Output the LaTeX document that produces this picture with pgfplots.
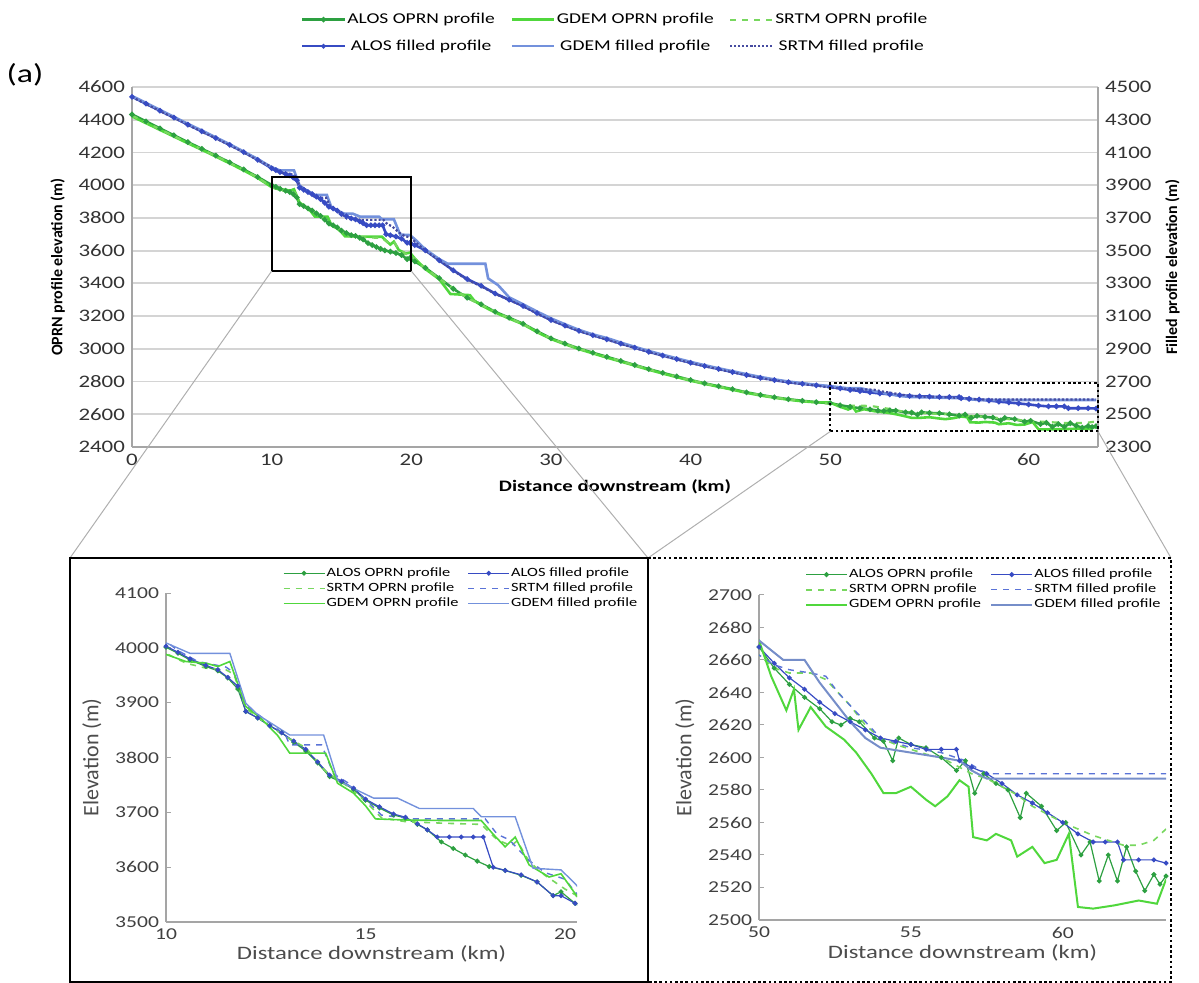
\documentclass[border=0pt]{standalone}
\usepackage{pgfplots}
\usepackage{pgfplotstable}
\pgfplotsset{compat=1.18}
\usepackage{fontspec}
\setmainfont[FakeStretch=1.3]{Carlito}
\newfontfamily\rotfont{Carlito}
\definecolor{alosO}{RGB}{45,160,65}
\definecolor{gdemO}{RGB}{80,215,60}
\definecolor{srtmO}{RGB}{120,215,95}
\definecolor{alosF}{RGB}{55,75,195}
\definecolor{gdemF}{RGB}{115,145,220}
\definecolor{srtmF}{RGB}{70,75,160}
\definecolor{srtmFi}{RGB}{90,115,215}
\definecolor{gridc}{RGB}{212,212,212}
\definecolor{axc}{RGB}{165,165,165}
\definecolor{linkc}{RGB}{175,175,175}

\pgfplotstableread{
x y
0 4432
1 4390
2 4347
3 4305
4 4263
5 4222
6 4181
7 4139
8 4096
9 4050
10.0 4001
10.3 3990
10.6 3978
11.0 3966
11.3 3958
11.55 3945
11.8 3925
12.0 3884
12.3 3872
12.6 3858
12.9 3845
13.2 3828
13.5 3812
13.8 3790
14.1 3765
14.4 3755
14.7 3742
15.0 3722
15.35 3708
15.7 3695
16.0 3690
16.3 3678
16.55 3668
16.9 3646
17.2 3634
17.5 3622
17.8 3611
18.1 3601
18.5 3594
18.9 3585
19.3 3573
19.7 3548
19.9 3555
20.25 3534
21 3495
22 3432
23 3367
24 3312
25 3272
26 3226
27 3190
28 3153
29 3107
30 3064
31 3032
32 3002
33 2976
34 2951
35 2926
36 2901
37 2876
38 2853
39 2831
40 2809
41 2789
42 2771
43 2753
44 2734
45 2718
46 2704
47 2692
48 2682
49 2674
50.0 2668
50.5 2655
51.0 2645
51.5 2637
52.0 2630
52.4 2622
52.7 2620
53.0 2624
53.3 2622
53.8 2612
54.1 2610
54.4 2598
54.6 2612
55.0 2608
55.5 2606
56.0 2600
56.5 2592
56.8 2598
57.1 2578
57.4 2590
57.8 2584
58.2 2580
58.6 2563
58.8 2578
59.3 2570
59.8 2555
60.1 2560
60.6 2540
60.9 2548
61.2 2524
61.5 2540
61.8 2524
62.1 2545
62.4 2530
62.7 2518
63.0 2528
63.2 2522
63.4 2527
}\alosO

\pgfplotstableread{
x y
0 4420
1 4379
2 4338
3 4297
4 4256
5 4216
6 4175
7 4133
8 4090
9 4044
10.0 3988
10.5 3975
11.0 3972
11.3 3966
11.6 3975
12.0 3893
12.4 3870
12.8 3840
13.1 3808
14.0 3808
14.3 3753
14.7 3735
15.0 3712
15.25 3688
16.0 3686
17.0 3685
17.9 3685
18.2 3660
18.5 3637
18.75 3655
19.1 3604
19.6 3582
19.9 3588
20.25 3552
21 3488
22 3425
22.8 3335
24.2 3328
24.5 3295
25 3266
26 3222
27 3185
28 3150
29 3102
30 3060
31 3028
32 2998
33 2972
34 2946
35 2922
36 2897
37 2872
38 2849
39 2827
40 2805
41 2786
42 2768
43 2750
44 2731
45 2715
46 2701
47 2689
48 2679
49 2673
50.0 2672
50.4 2650
50.9 2629
51.15 2642
51.3 2617
51.7 2631
52.2 2619
52.8 2611
53.2 2603
53.7 2590
54.1 2578
54.5 2578
55.0 2582
55.5 2574
55.8 2570
56.2 2576
56.6 2586
56.9 2582
57.05 2551
57.5 2549
57.8 2553
58.3 2549
58.5 2539
59.0 2545
59.4 2535
59.8 2537
60.2 2553
60.5 2508
61.0 2507
61.7 2509
62.5 2512
63.1 2510
63.4 2525
}\gdemO

\pgfplotstableread{
x y
0 4425
1 4383
2 4342
3 4300
4 4259
5 4218
6 4178
7 4136
8 4093
9 4047
10.0 3990
10.5 3972
11.0 3963
11.5 3960
11.7 3952
12.0 3890
12.5 3862
13.0 3838
13.5 3818
14.0 3775
14.5 3750
15.0 3720
15.4 3690
16.0 3683
17.0 3680
17.9 3678
18.3 3650
18.65 3639
18.8 3648
19.1 3610
19.5 3585
20.0 3560
20.25 3550
21 3492
22 3430
23 3368
24 3310
25 3270
26 3224
27 3188
28 3151
29 3105
30 3063
31 3031
32 3001
33 2975
34 2950
35 2925
36 2900
37 2875
38 2852
39 2830
40 2808
41 2788
42 2770
43 2752
44 2733
45 2717
46 2703
47 2691
48 2681
49 2673
50.0 2663
50.5 2655
51.0 2652
51.7 2652
52.2 2648
52.6 2640
53.0 2632
53.5 2620
54.0 2612
54.5 2608
55.0 2605
55.5 2602
56.0 2600
56.5 2595
57.0 2590
57.5 2587
58.0 2582
58.5 2577
59.0 2570
59.5 2565
60.0 2560
60.5 2556
61.0 2552
61.5 2549
62.0 2546
62.5 2546
63.0 2549
63.4 2556
}\srtmO

\pgfplotstableread{
x y
0 4440
1 4398
2 4355
3 4313
4 4270
5 4229
6 4188
7 4146
8 4102
9 4055
10.0 4003
10.3 3992
10.6 3980
11.0 3968
11.3 3960
11.55 3946
11.8 3930
12.0 3884
12.3 3872
12.6 3858
12.9 3845
13.2 3830
13.5 3815
13.8 3792
14.1 3768
14.4 3757
14.7 3744
15.0 3724
15.35 3710
15.7 3697
16.0 3691
16.3 3679
16.55 3668
16.8 3655
17.1 3655
17.4 3655
17.7 3655
17.95 3655
18.2 3600
18.5 3594
18.9 3586
19.3 3573
19.7 3548
19.9 3548
20.25 3534
21 3502
22 3440
23 3380
24 3326
25 3285
26 3238
27 3200
28 3162
29 3118
30 3076
31 3042
32 3010
33 2983
34 2958
35 2932
36 2907
37 2882
38 2859
39 2837
40 2815
41 2795
42 2777
43 2758
44 2740
45 2723
46 2709
47 2696
48 2686
49 2677
50.0 2668
50.5 2658
51.0 2649
51.5 2642
52.0 2634
52.5 2627
53.0 2622
53.5 2617
54.0 2612
54.5 2610
55.0 2608
55.5 2605
56.0 2605
56.5 2605
56.6 2598
57.0 2594
57.5 2590
58.0 2584
58.5 2577
59.0 2572
59.5 2566
60.0 2560
60.5 2553
61.0 2548
61.4 2548
61.8 2548
62.0 2537
62.5 2537
63.0 2537
63.4 2535
}\alosF

\pgfplotstableread{
x y
0 4445
1 4403
2 4360
3 4318
4 4275
5 4234
6 4192
7 4150
8 4105
9 4060
10.0 4009
10.6 3990
11.6 3990
12.0 3899
12.3 3878
13.1 3841
13.95 3841
14.3 3759
14.8 3740
15.2 3726
15.8 3726
16.35 3707
17.7 3707
17.9 3692
18.75 3692
19.2 3598
19.9 3595
20.25 3570
21 3508
22 3448
22.6 3420
25.3 3420
25.5 3330
26.2 3290
27 3215
28 3172
29 3128
30 3086
31 3050
32 3016
33 2988
34 2966
35 2938
36 2912
37 2887
38 2864
39 2842
40 2820
41 2800
42 2781
43 2763
44 2745
45 2728
46 2713
47 2700
48 2690
49 2680
50.0 2672
50.8 2660
51.5 2660
52.0 2646
52.5 2634
53.0 2622
53.5 2612
54.0 2606
55.0 2603
56.0 2600
56.6 2598
57.0 2592
57.5 2587
63.4 2587
}\gdemF

\pgfplotstableread{
x y
0 4438
1 4396
2 4353
3 4311
4 4268
5 4227
6 4186
7 4144
8 4100
9 4053
10.0 4012
10.3 3995
10.8 3975
11.5 3965
11.7 3955
12.0 3895
12.5 3868
13.0 3840
13.1 3823
13.9 3823
14.2 3770
14.6 3752
15.0 3724
15.4 3695
16.2 3688
18.0 3688
18.3 3660
18.6 3650
19.1 3612
19.5 3590
20.0 3578
20.25 3555
21 3500
22 3440
23 3378
24 3322
25 3282
26 3236
27 3198
28 3160
29 3115
30 3074
31 3040
32 3008
33 2981
34 2956
35 2930
36 2905
37 2880
38 2857
39 2835
40 2813
41 2793
42 2775
43 2756
44 2738
45 2721
46 2707
47 2694
48 2684
49 2675
50.0 2663
50.5 2657
51.0 2654
51.7 2652
52.2 2650
52.6 2640
53.0 2632
53.5 2622
54.0 2612
55.0 2606
56.0 2603
56.8 2598
57.3 2592
57.6 2590
63.4 2590
}\srtmF

\pgfplotsset{
  kmstretch/.style={x coord trafo/.code={\pgfmathparse{(##1>50)?(50+(##1-50)*1.42):(##1)}}},
  mainax/.style={at={(66pt,268pt)}, anchor=south west, scale only axis,
    width=483pt, height=180pt, kmstretch, xmin=0, xmax=63.5,
    major tick length=0pt,
    axis line style={axc, line width=0.9pt},
    tick label style={font=\fontsize{8.8}{10}\selectfont, text=black!80},
    /pgf/number format/1000 sep={}, /pgf/number format/assume math mode=true},
  insetax/.style={scale only axis, anchor=south west,
    axis x line*=bottom, axis y line*=left,
    axis line style={axc, line width=0.6pt},
    x tick style={draw=none}, y tick style={axc, line width=0.5pt},
    major tick length=2.5pt, tick align=inside,
    tick label style={font=\fontsize{8.3}{9.5}\selectfont, text=black!75},
    /pgf/number format/1000 sep={}, /pgf/number format/assume math mode=true,
    xlabel={Distance downstream (km)}, ylabel={Elevation (m)},
    xlabel style={font=\fontsize{9.5}{10}\selectfont, text=black!70, yshift=4pt},
    ylabel style={font=\rotfont\fontsize{11}{12}\selectfont, text=black!70},
    legend columns=2,
    legend cell align=left,
    legend style={draw=none, fill=none, font=\fontsize{6.3}{7.5}\selectfont,
      /tikz/every even column/.append style={column sep=4pt}, row sep=0.5pt,
      nodes={inner sep=0.6pt}},
    legend image code/.code={\draw[mark repeat=2,mark phase=2,##1] plot coordinates {(0cm,0cm) (0.36cm,0cm) (0.72cm,0cm)};},
  },
}

\begin{document}
\begin{tikzpicture}
\useasboundingbox (0,0) rectangle (599.5pt,491.5pt);

% ---------------- main chart: OPRN profiles (left axis)
\begin{axis}[mainax,
  ymin=2400, ymax=4600,
  xtick={0,10,20,30,40,50,60}, xticklabels={0,10,20,30,40,50,60},
  ytick={2400,2600,...,4600},
  ymajorgrids, grid style={gridc, line width=0.9pt},
  axis x line*=bottom, axis y line*=left,
  xlabel={Distance downstream (km)}, ylabel={OPRN profile elevation (m)},
  xlabel style={font=\bfseries\fontsize{8}{9}\selectfont},
  ylabel style={font=\rotfont\bfseries\fontsize{8}{9}\selectfont},
  legend columns=3,
  legend style={at={(0.5,1.15)}, anchor=center, draw=none, fill=none,
    font=\fontsize{7.5}{9}\selectfont,
    /tikz/every even column/.append style={column sep=7pt}, row sep=5pt,
    nodes={inner sep=0.8pt}},
  legend image code/.code={\draw[mark repeat=2,mark phase=2,#1] plot coordinates {(0cm,0cm) (0.37cm,0cm) (0.74cm,0cm)};},
]
\addplot[alosO, line width=1.3pt, mark=*, mark size=0.6pt] table {\alosO};
\addlegendentry{ALOS OPRN profile}
\addplot[gdemO, line width=1.3pt] table {\gdemO};
\addlegendentry{GDEM OPRN profile}
\addplot[srtmO, line width=1.1pt, dashed] table {\srtmO};
\addlegendentry{SRTM OPRN profile}
\addlegendimage{alosF, line width=1.1pt, mark=*, mark size=0.55pt}
\addlegendentry{ALOS filled profile}
\addlegendimage{gdemF, line width=1.1pt}
\addlegendentry{GDEM filled profile}
\addlegendimage{srtmF, line width=1pt, densely dotted}
\addlegendentry{SRTM filled profile}
\coordinate (sb1) at (axis cs:10,3475);
\coordinate (sb2) at (axis cs:20,4050);
\coordinate (db1) at (axis cs:50,2495);
\coordinate (db2) at (axis cs:63.5,2790);
\end{axis}

% ---------------- main chart: filled profiles (right axis)
\begin{axis}[mainax,
  ymin=2300, ymax=4500,
  ytick={2300,2500,...,4500},
  axis y line*=right, axis x line=none,
  ylabel={Filled profile elevation (m)},
  ylabel style={font=\rotfont\bfseries\fontsize{8}{9}\selectfont},
]
\addplot[alosF, line width=1.3pt, mark=*, mark size=0.6pt] table {\alosF};
\addplot[gdemF, line width=1.3pt] table {\gdemF};
\addplot[srtmF, line width=1.1pt, densely dotted] table {\srtmF};
\end{axis}

\node[font=\fontsize{13}{14}\selectfont] at (12.5pt,454pt) {(a)};

% boxes on main chart
\draw[black, line width=1pt] (sb1) rectangle (sb2);
\draw[black, line width=1pt, dash pattern=on 1.3pt off 1.3pt] (db1) rectangle (db2);

% link lines
\draw[linkc, line width=0.5pt] (sb1) -- (35pt,212.5pt);
\draw[linkc, line width=0.5pt] (sb1 -| sb2) -- (324pt,212.5pt);
\draw[linkc, line width=0.5pt] (db1) -- (324pt,212.5pt);
\draw[linkc, line width=0.5pt] (db1 -| db2) -- (585.5pt,212.5pt);

% ---------------- inset left
\begin{axis}[insetax, at={(83pt,30.5pt)}, width=205.5pt, height=164.5pt,
  xmin=10, xmax=20.3, ymin=3500, ymax=4100,
  xtick={10,15,20}, ytick={3500,3600,...,4100},
  legend style={at={(1.165,1.095)}, anchor=north east},
]
\addplot[alosO, line width=0.6pt, mark=*, mark size=0.9pt] table {\alosO};
\addlegendentry{ALOS OPRN profile}
\addplot[alosF, line width=0.6pt, mark=*, mark size=0.9pt] table {\alosF};
\addlegendentry{ALOS filled profile}
\addplot[srtmO, line width=0.8pt, dashed] table {\srtmO};
\addlegendentry{SRTM OPRN profile}
\addplot[srtmFi, line width=0.7pt, dashed] table {\srtmF};
\addlegendentry{SRTM filled profile}
\addplot[gdemO, line width=0.8pt] table {\gdemO};
\addlegendentry{GDEM OPRN profile}
\addplot[gdemF, line width=0.7pt] table {\gdemF};
\addlegendentry{GDEM filled profile}
\end{axis}

% ---------------- inset right
\begin{axis}[insetax, at={(379.5pt,31.5pt)}, width=203.5pt, height=162.5pt,
  xmin=50, xmax=63.4, ymin=2500, ymax=2700,
  xtick={50,55,60}, ytick={2500,2520,...,2700},
  legend style={at={(1.005,1.098)}, anchor=north east},
]
\addplot[alosO, line width=0.6pt, mark=*, mark size=0.9pt] table {\alosO};
\addlegendentry{ALOS OPRN profile}
\addplot[alosF, line width=0.6pt, mark=*, mark size=0.9pt] table {\alosF};
\addlegendentry{ALOS filled profile}
\addplot[srtmO, line width=0.8pt, dashed] table {\srtmO};
\addlegendentry{SRTM OPRN profile}
\addplot[srtmFi, line width=0.7pt, dashed] table {\srtmF};
\addlegendentry{SRTM filled profile}
\addplot[gdemO, line width=1pt] table {\gdemO};
\addlegendentry{GDEM OPRN profile}
\addplot[gdemF!80!gray, line width=1pt] table {\gdemF};
\addlegendentry{GDEM filled profile}
\end{axis}

% inset frames
\draw[black, line width=1pt] (35pt,0.5pt) rectangle (324pt,212.5pt);
\draw[black, line width=1pt, dash pattern=on 1.3pt off 1.3pt] (324pt,212.5pt) -- (585.5pt,212.5pt) -- (585.5pt,0.5pt) -- (324pt,0.5pt);
\end{tikzpicture}
\end{document}
